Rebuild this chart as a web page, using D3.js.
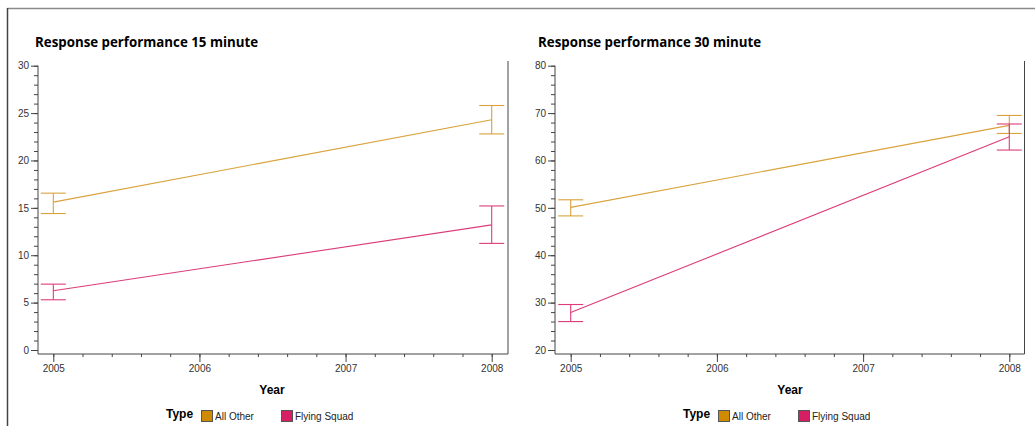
<!DOCTYPE html>
<html lang="en">
<head>
    <meta charset="UTF-8">
    <title>Response performance</title>
    <script src="https://d3js.org/d3.v7.min.js"></script>
    <style>
        body { margin: 0; padding: 0; background: #fff; }
        svg { display: block; }
        .tick text { font-family: Arial, "Liberation Sans", sans-serif; font-size: 10px; fill: #333; }
    </style>
</head>
<body>
<svg id="chart" width="1035" height="426"></svg>
<script>
    // Data
    const years = [2005, 2008];
    const types = ['All Other', 'Flying Squad'];
    const typeColors = ['#d08a00', '#d61f63'];
    const lineColors = ['#d9a23c', '#dc3c79'];

    // 15 minute: mean, lower, upper per year
    const mean15 = { 'All Other': [15.6, 24.3], 'Flying Squad': [6.25, 13.2] };
    const low15  = { 'All Other': [14.4, 22.8], 'Flying Squad': [5.3, 11.25] };
    const high15 = { 'All Other': [16.55, 25.8], 'Flying Squad': [6.95, 15.2] };

    // 30 minute
    const mean30 = { 'All Other': [50.1, 67.4], 'Flying Squad': [27.9, 65.0] };
    const low30  = { 'All Other': [48.3, 65.7], 'Flying Squad': [26.0, 62.2] };
    const high30 = { 'All Other': [51.7, 69.5], 'Flying Squad': [29.6, 67.7] };

    const svg = d3.select('#chart');

    // outer frame (top + left)
    svg.append('line').attr('x1', 7.5).attr('x2', 1035).attr('y1', 8.5).attr('y2', 8.5)
        .attr('stroke', '#8a8a8a').attr('stroke-width', 1.5);
    svg.append('line').attr('x1', 7.5).attr('x2', 7.5).attr('y1', 8).attr('y2', 426)
        .attr('stroke', '#444').attr('stroke-width', 1.5);

    function drawPanel(opt) {
        const g = svg.append('g');

        const x = d3.scaleLinear().domain([2005, 2008]).range([opt.x0, opt.x1]);
        const y = d3.scaleLinear().domain(opt.yDomain).range([350, 65.7]);

        // title
        g.append('text')
            .attr('x', opt.titleX).attr('y', 46.5)
            .attr('font-family', '"Open Sans", sans-serif')
            .attr('font-weight', 'bold').attr('font-size', 13.3)
            .attr('fill', '#000')
            .text(opt.title);

        // y axis: minor ticks then major with labels
        const yAxisG = g.append('g').attr('transform', `translate(${opt.axisX},0)`);
        yAxisG.call(d3.axisLeft(y).tickValues(d3.range(opt.yDomain[0], opt.yDomain[1] + 0.001, opt.yMinor))
            .tickSize(4).tickFormat(''));
        yAxisG.call(g2 => g2.select('.domain').remove());
        const yMajor = g.append('g').attr('transform', `translate(${opt.axisX},0)`)
            .call(d3.axisLeft(y).tickValues(d3.range(opt.yDomain[0], opt.yDomain[1] + 0.001, opt.yMajor))
                .tickSize(7).tickPadding(2).tickSizeOuter(0));
        yMajor.select('.domain').attr('d', `M0,${y(opt.yDomain[1])}V354`);

        // x axis
        const xMinorVals = d3.range(0, 16).map(i => 2005 + i * 0.2);
        const xAxisG = g.append('g').attr('transform', 'translate(0,354)');
        xAxisG.call(d3.axisBottom(x).tickValues(xMinorVals).tickSize(3).tickFormat(''));
        xAxisG.select('.domain').remove();
        const xMajor = g.append('g').attr('transform', 'translate(0,354)')
            .call(d3.axisBottom(x).tickValues([2005, 2006, 2007, 2008]).tickSize(8)
                .tickPadding(3).tickFormat(d3.format('d')).tickSizeOuter(0));
        xMajor.select('.domain').attr('d', `M${opt.axisX},0H${opt.frameX}`);

        g.selectAll('.tick line, .domain').attr('stroke', '#444');

        // right frame line
        g.append('line').attr('x1', opt.frameX).attr('x2', opt.frameX)
            .attr('y1', 61).attr('y2', 354).attr('stroke', '#444');

        // series
        types.forEach((t, i) => {
            const pts = years.map((yr, j) => ({ yr, m: opt.mean[t][j], lo: opt.low[t][j], hi: opt.high[t][j] }));
            g.append('path')
                .datum(pts)
                .attr('fill', 'none')
                .attr('stroke', lineColors[i])
                .attr('stroke-width', 1.1)
                .attr('d', d3.line().x(d => x(d.yr)).y(d => y(d.m)));

            const eb = g.selectAll(null).data(pts).join('g').attr('stroke', lineColors[i]).attr('stroke-width', 1.1);
            eb.append('line').attr('x1', d => x(d.yr)).attr('x2', d => x(d.yr))
                .attr('y1', d => y(d.lo)).attr('y2', d => y(d.hi));
            eb.append('line').attr('x1', d => x(d.yr) - 12.5).attr('x2', d => x(d.yr) + 12.5)
                .attr('y1', d => y(d.hi)).attr('y2', d => y(d.hi));
            eb.append('line').attr('x1', d => x(d.yr) - 12.5).attr('x2', d => x(d.yr) + 12.5)
                .attr('y1', d => y(d.lo)).attr('y2', d => y(d.lo));
        });

        // x axis title
        g.append('text')
            .attr('x', opt.yearX).attr('y', 394)
            .attr('text-anchor', 'middle')
            .attr('font-family', 'Arial, "Liberation Sans", sans-serif')
            .attr('font-weight', 'bold').attr('font-size', 12)
            .text('Year');

        // legend
        const lg = g.append('g').attr('transform', `translate(${opt.legendX},0)`);
        lg.append('text').attr('x', 0).attr('y', 418)
            .attr('font-family', 'Arial, "Liberation Sans", sans-serif')
            .attr('font-weight', 'bold').attr('font-size', 12)
            .text('Type');
        const offs = [35, 115];
        types.forEach((t, i) => {
            lg.append('rect').attr('x', offs[i] + 0.5).attr('y', 410.5).attr('width', 11).attr('height', 11)
                .attr('fill', typeColors[i]).attr('stroke', '#555');
            lg.append('text').attr('x', offs[i] + 14).attr('y', 420)
                .attr('font-family', 'Arial, "Liberation Sans", sans-serif')
                .attr('font-size', 10).attr('fill', '#222')
                .text(t);
        });
    }

    drawPanel({
        title: 'Response performance 15 minute', titleX: 35,
        x0: 53.3, x1: 491.7, axisX: 38, frameX: 508,
        yDomain: [0, 30], yMajor: 5, yMinor: 1,
        mean: mean15, low: low15, high: high15,
        yearX: 272, legendX: 166
    });

    drawPanel({
        title: 'Response performance 30 minute', titleX: 538,
        x0: 570.7, x1: 1009.3, axisX: 555, frameX: 1024.5,
        yDomain: [20, 80], yMajor: 10, yMinor: 2,
        mean: mean30, low: low30, high: high30,
        yearX: 790, legendX: 683
    });
</script>
</body>
</html>
